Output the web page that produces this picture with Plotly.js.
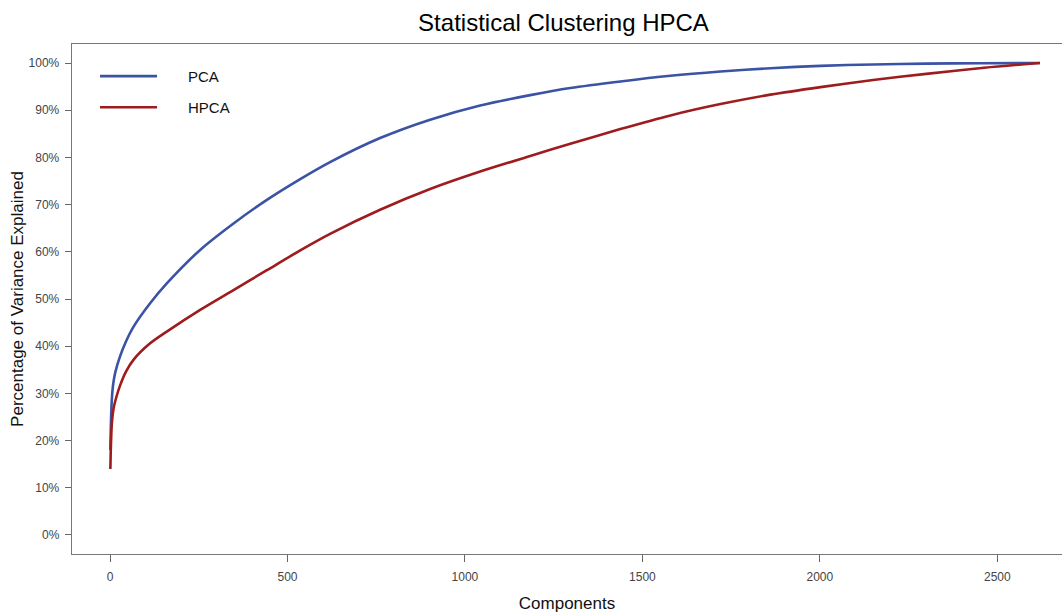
<!DOCTYPE html>
<html>
<head>
<meta charset="utf-8">
<script src="https://cdn.plot.ly/plotly-3.0.1.min.js"></script>
<style>
  html, body { margin: 0; padding: 0; background: #ffffff; }
  #chart { width: 1062px; height: 614px; }
</style>
</head>
<body>
<div id="chart"></div>
<script>
// Cumulative share of variance explained by the number of retained components.
var pcaComponents = [1, 2, 5, 9, 15, 28, 45, 66, 113, 160, 254, 348, 442, 536, 620, 761, 902, 1043, 1184, 1297, 1438, 1579, 1720, 1861, 2002, 2150, 2300, 2450, 2620];
var pcaExplained = [0.18, 0.22, 0.286, 0.32, 0.345, 0.378, 0.41, 0.441, 0.491, 0.533, 0.604, 0.660, 0.710, 0.754, 0.790, 0.841, 0.880, 0.910, 0.932, 0.947, 0.961, 0.973, 0.982, 0.989, 0.994, 0.997, 0.9988, 0.9996, 1.0];

var hpcaComponents = [1, 2, 3, 5, 10, 19, 28, 45, 66, 113, 160, 254, 348, 442, 536, 620, 761, 902, 1043, 1184, 1297, 1438, 1579, 1720, 1861, 2002, 2150, 2300, 2463, 2620];
var hpcaExplained = [0.14, 0.175, 0.20, 0.235, 0.268, 0.295, 0.316, 0.346, 0.371, 0.406, 0.431, 0.477, 0.519, 0.561, 0.603, 0.638, 0.689, 0.733, 0.770, 0.803, 0.829, 0.860, 0.889, 0.913, 0.933, 0.949, 0.964, 0.977, 0.990, 1.0];

var seriesNames = ['PCA', 'HPCA'];
var seriesColors = ['#3A53A4', '#9E1B1E'];

var xTicks = [0, 500, 1000, 1500, 2000, 2500];
var yTicks = [0, 0.1, 0.2, 0.3, 0.4, 0.5, 0.6, 0.7, 0.8, 0.9, 1.0];

var font = 'Liberation Sans, Arial, sans-serif';

var traces = [
  {
    x: pcaComponents, y: pcaExplained, name: seriesNames[0],
    type: 'scatter', mode: 'lines',
    line: { color: seriesColors[0], width: 2.6, shape: 'spline', smoothing: 0.8 },
    hoverinfo: 'x+y+name'
  },
  {
    x: hpcaComponents, y: hpcaExplained, name: seriesNames[1],
    type: 'scatter', mode: 'lines',
    line: { color: seriesColors[1], width: 2.6, shape: 'spline', smoothing: 0.8 },
    hoverinfo: 'x+y+name'
  }
];

// Legend drawn as short line samples with labels in the upper left of the panel.
var legendX0 = 0.0283, legendX1 = 0.0859, legendTextX = 0.1152;
var legendY = [0.937, 0.876];
var shapes = [], annotations = [];
seriesNames.forEach(function (name, i) {
  shapes.push({
    type: 'line', xref: 'paper', yref: 'paper',
    x0: legendX0, x1: legendX1, y0: legendY[i], y1: legendY[i],
    line: { color: seriesColors[i], width: 2.6 }
  });
  annotations.push({
    xref: 'paper', yref: 'paper', x: legendTextX, y: legendY[i],
    xanchor: 'left', yanchor: 'middle', showarrow: false,
    text: name, font: { family: font, size: 15, color: '#111111' }
  });
});

var layout = {
  width: 1062, height: 614,
  margin: { l: 72, r: 0, t: 44, b: 60 },
  paper_bgcolor: '#ffffff', plot_bgcolor: '#ffffff',
  showlegend: false,
  font: { family: font },
  title: {
    text: 'Statistical Clustering HPCA',
    x: 0.5306, xanchor: 'center', xref: 'container',
    y: 0.964, yanchor: 'middle', yref: 'container',
    font: { family: font, size: 24, color: '#000000' }
  },
  xaxis: {
    range: [-107.1, 2682.3],
    tickvals: xTicks, ticktext: xTicks.map(String),
    ticks: 'outside', ticklen: 7, tickwidth: 1, tickcolor: '#666666',
    showline: true, linecolor: '#777777', linewidth: 1.3, mirror: true,
    showgrid: false, zeroline: false,
    tickfont: { family: font, size: 12, color: '#444444' },
    ticklabelstandoff: 4,
    title: { text: 'Components', standoff: 14, font: { family: font, size: 17, color: '#111111' } }
  },
  yaxis: {
    range: [-0.0403, 1.0403],
    tickvals: yTicks, tickformat: '.0%',
    ticks: 'outside', ticklen: 6, tickwidth: 1, tickcolor: '#666666',
    showline: true, linecolor: '#777777', linewidth: 1.3, mirror: false,
    showgrid: false, zeroline: false,
    tickfont: { family: font, size: 12, color: '#444444' },
    ticklabelstandoff: 3,
    title: { text: 'Percentage of Variance Explained', standoff: 0, font: { family: font, size: 17, color: '#111111' } }
  },
  shapes: shapes,
  annotations: annotations
};

Plotly.newPlot('chart', traces, layout, { displayModeBar: false, staticPlot: true });
</script>
</body>
</html>
